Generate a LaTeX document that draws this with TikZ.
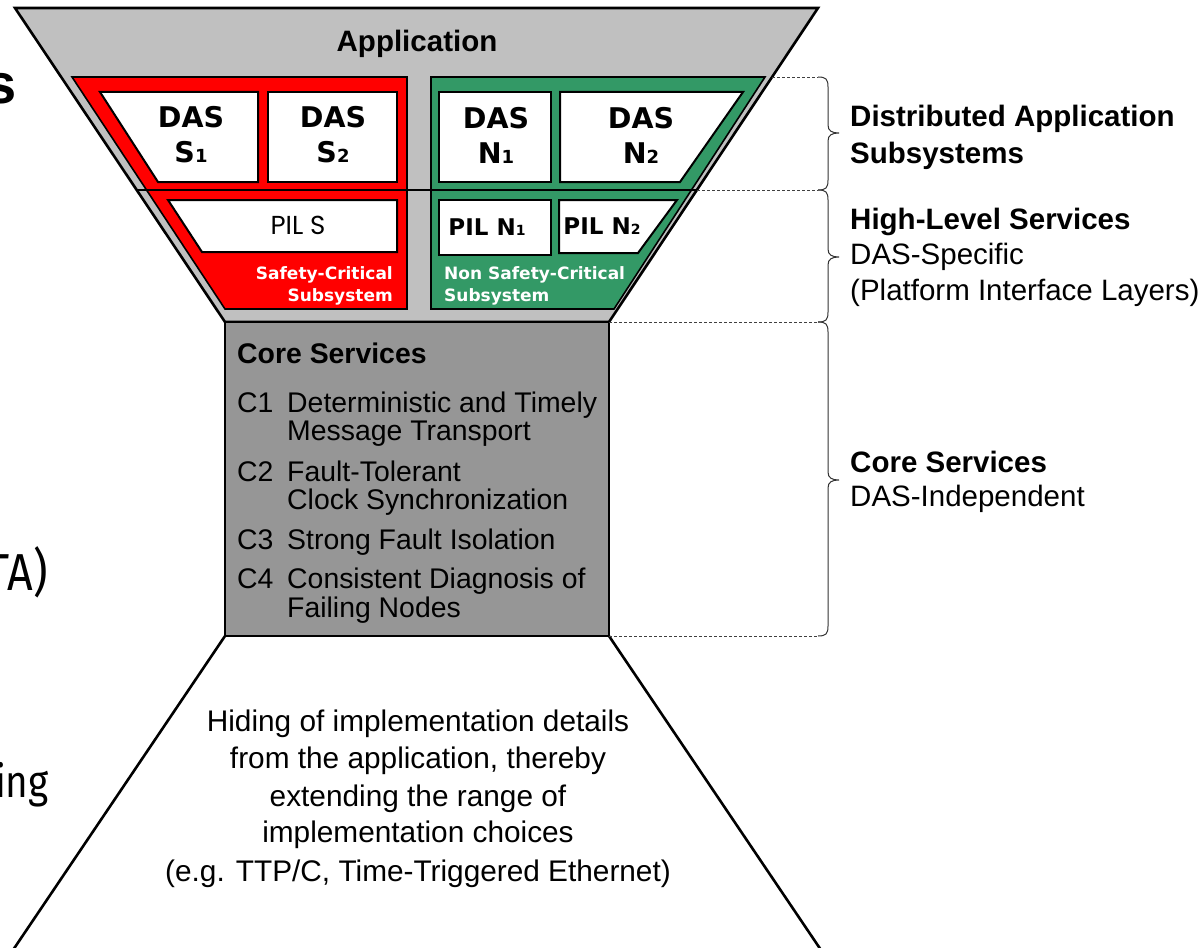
\documentclass[tikz,border=0pt]{standalone}
\usepackage{fontspec}
\setmainfont{Liberation Sans}
\newfontfamily\heavyfont{DejaVu Sans}
\newfontfamily\lightfont{Poppins}
\newfontfamily\slidefont{Fira Sans}[FakeStretch=0.86]
\newcommand\lowsub[2]{{\fontsize{#1}{#1}\selectfont #2}}
\definecolor{appgray}{RGB}{192,192,192}
\definecolor{coregray}{RGB}{150,150,150}
\definecolor{safered}{RGB}{255,0,0}
\definecolor{nsgreen}{RGB}{51,153,102}
\begin{document}
\begin{tikzpicture}[x=1pt,y=-1pt,
  frameline/.style={draw=black,line width=2.6pt},
  layer/.style={draw=black,line width=1.6pt},
  slot/.style={draw=black,line width=2pt,fill=white},
  guide/.style={draw=black!75,line width=0.8pt,dash pattern=on 3pt off 2pt},
  bracket/.style={draw=black!80,line width=1pt},
  txt/.style={inner sep=0pt,font=\fontsize{28.4}{32}\selectfont},
  btxt/.style={inner sep=0pt,font=\fontsize{28.4}{32}\selectfont\bfseries},
  rtxt/.style={inner sep=0pt,anchor=base west,font=\fontsize{29.5}{32}\selectfont},
  rbtxt/.style={inner sep=0pt,anchor=base west,font=\fontsize{29.5}{32}\selectfont\bfseries},
  ftxt/.style={inner sep=0pt,anchor=base,font=\fontsize{29.8}{32}\selectfont},
  dastxt/.style={inner sep=0pt,align=center,font=\heavyfont\bfseries\fontsize{28.5}{35}\selectfont},
  piltxt/.style={inner sep=0pt,font=\heavyfont\bfseries\fontsize{23}{24}\selectfont},
  subtxt/.style={inner sep=0pt,text=white,font=\heavyfont\bfseries\fontsize{17}{22}\selectfont},
  fragtxt/.style={inner sep=0pt,anchor=base east,font=\slidefont\fontsize{52}{56}\selectfont}
]
\useasboundingbox (0,0) rectangle (1201,947);

% outline corners
\coordinate (tl) at (15,8);
\coordinate (tr) at (818,8);
\coordinate (cl) at (225,322);
\coordinate (cr) at (609,322);
\coordinate (bl) at (225,636);
\coordinate (br) at (609,636);
\coordinate (fl) at (11,953);
\coordinate (fr) at (823,953);

% application layer
\filldraw[frameline,fill=appgray] (tl) -- (tr) -- (cr) -- (cl) -- cycle;

% subsystems
\filldraw[layer,fill=safered] (72,77) -- (407,77) -- (407,309) -- (225,309) -- cycle;
\filldraw[layer,fill=nsgreen] (431,77) -- (765,77) -- (614,309) -- (431,309) -- cycle;

% DAS slots
\filldraw[slot] (100,92) -- (258,92) -- (258,182) -- (158,182) -- cycle;
\filldraw[slot] (268,92) -- (397,92) -- (397,182) -- (268,182) -- cycle;
\filldraw[slot] (439,92) -- (551,92) -- (551,182) -- (439,182) -- cycle;
\filldraw[slot] (560,92) -- (743,92) -- (680,182) -- (560,182) -- cycle;

% platform interface layers
\filldraw[slot] (168,200) -- (397,200) -- (397,252) -- (202,252) -- cycle;
\filldraw[slot] (439,200) -- (551,200) -- (551,255) -- (439,255) -- cycle;
\filldraw[slot] (559,200) -- (677,200) -- (638,253) -- (559,253) -- cycle;

% divider between DAS and PIL rows
\coordinate (divl) at (137,190);
\coordinate (divr) at (697,190);
\draw[layer] (divl) -- (divr);

% core services block
\filldraw[frameline,fill=coregray] (cl) rectangle (br);

% implementation funnel
\draw[frameline] (bl) -- (fl);
\draw[frameline] (br) -- (fr);

% guide lines towards the braces
\coordinate (g1) at (772,77);
\coordinate (e1) at (818,77);
\coordinate (e2) at (818,190);
\coordinate (e3) at (818,322);
\coordinate (e4) at (818,636);
\draw[guide] (g1) -- (e1);
\draw[guide] (divr) -- (e2);
\draw[guide] (cr) -- (e3);
\draw[guide] (br) -- (e4);

% braces
\foreach \top/\tip/\bot in {77/133/190, 190/257/322, 322/480/636}{
  \draw[bracket] (818,\top) .. controls (826,\top) and (828,\top+2) .. (828,\top+10)
    -- (828,\tip-8) .. controls (828,\tip-2) and (832,\tip) .. (839,\tip)
    .. controls (832,\tip) and (828,\tip+2) .. (828,\tip+8)
    -- (828,\bot-10) .. controls (828,\bot-2) and (826,\bot) .. (818,\bot);
}

% texts
\node[inner sep=0pt,font=\fontsize{29.5}{32}\selectfont\bfseries] (app) at (417,44) {Application};

\node[dastxt] (ds1) at (191,135) {DAS\\S\lowsub{18}{1}};
\node[dastxt] (ds2) at (333,135) {DAS\\S\lowsub{18}{2}};
\node[dastxt] (dn1) at (496,135) {DAS\\N\lowsub{18}{1}};
\node[dastxt] (dn2) at (641,135) {DAS\\N\lowsub{18}{2}};

\node[inner sep=0pt,font=\lightfont\fontsize{26}{28}\selectfont] (pils) at (298,225) {PIL S};
\node[piltxt] (piln1) at (487,227) {PIL N\lowsub{14}{1}};
\node[piltxt] (piln2) at (602,226) {PIL N\lowsub{14}{2}};

\node[subtxt,align=right,anchor=east] (sc) at (393,286) {Safety-Critical\\Subsystem};
\node[subtxt,align=left,anchor=west] (nsc) at (444,286) {Non Safety-Critical\\Subsystem};

% core services list
\node[btxt,anchor=base west] (cs) at (237,363) {Core Services};
\node[txt,anchor=base west] (c1) at (237,412) {C1};
\node[txt,anchor=base west] (c1a) at (287,412) {Deterministic and Timely};
\node[txt,anchor=base west] (c1b) at (287,440) {Message Transport};
\node[txt,anchor=base west] (c2) at (237,481) {C2};
\node[txt,anchor=base west] (c2a) at (287,481) {Fault-Tolerant};
\node[txt,anchor=base west] (c2b) at (287,509) {Clock Synchronization};
\node[txt,anchor=base west] (c3) at (237,549) {C3};
\node[txt,anchor=base west] (c3a) at (287,549) {Strong Fault Isolation};
\node[txt,anchor=base west] (c4) at (237,588) {C4};
\node[txt,anchor=base west] (c4a) at (287,588) {Consistent Diagnosis of};
\node[txt,anchor=base west] (c4b) at (287,617) {Failing Nodes};

% layer descriptions
\node[rbtxt] (l1a) at (850,127) {Distributed Application};
\node[rbtxt] (l1b) at (850,163) {Subsystems};
\node[rbtxt] (l2a) at (850,229) {High-Level Services};
\node[rtxt] (l2b) at (850,264) {DAS-Specific};
\node[rtxt] (l2c) at (850,300) {(Platform Interface Layers)};
\node[rbtxt] (l3a) at (850,472) {Core Services};
\node[rtxt] (l3b) at (850,506) {DAS-Independent};

% funnel description
\node[ftxt] (h1) at (418,731) {Hiding of implementation details};
\node[ftxt] (h2) at (418,768) {from the application, thereby};
\node[ftxt] (h3) at (418,806) {extending the range of};
\node[ftxt] (h4) at (418,842) {implementation choices};
\node[ftxt] (h5) at (418,881) {(e.g. TTP/C, Time-Triggered Ethernet)};

% slide text cut at the left edge
\node[inner sep=0pt,anchor=base east,font=\fontsize{56}{60}\selectfont\bfseries] (fs) at (17,103) {s};
\node[fragtxt] (fta) at (48,590) {TA)};
\node[fragtxt,font=\slidefont\fontsize{45}{50}\selectfont] (fing) at (49,797) {ing};
\end{tikzpicture}
\end{document}
